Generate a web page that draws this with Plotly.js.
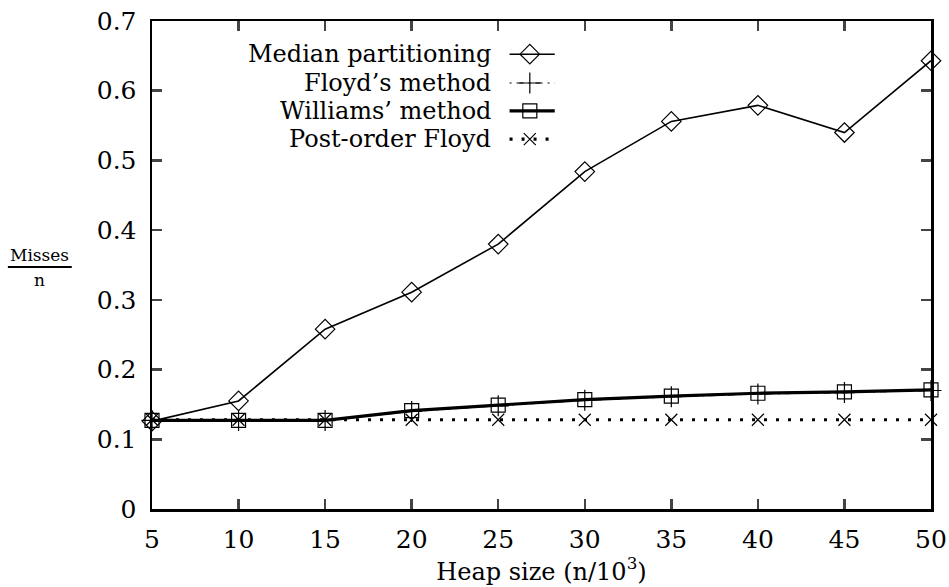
<!DOCTYPE html>
<html>
<head>
<meta charset="utf-8">
<script src="https://cdn.plot.ly/plotly-3.0.1.min.js"></script>
<style>html,body{margin:0;padding:0;background:#fff;}#chart{width:949px;height:587px;}</style>
</head>
<body>
<div id="chart"></div>
<script>
const heapSize = [5, 10, 15, 20, 25, 30, 35, 40, 45, 50];
const medianPartitioning = [0.126, 0.155, 0.258, 0.311, 0.380, 0.484, 0.556, 0.579, 0.540, 0.643];
const floydsMethod = [0.127, 0.127, 0.127, 0.140, 0.148, 0.156, 0.161, 0.165, 0.167, 0.170];
const williamsMethod = [0.127, 0.127, 0.127, 0.141, 0.149, 0.157, 0.162, 0.166, 0.168, 0.171];
const postOrderFloyd = [0.128, 0.128, 0.128, 0.128, 0.128, 0.128, 0.128, 0.128, 0.128, 0.128];
const seriesNames = ["Median partitioning", "Floyd’s method", "Williams’ method", "Post-order Floyd"];
const xTicks = [5, 10, 15, 20, 25, 30, 35, 40, 45, 50];
const yTicks = [0, 0.1, 0.2, 0.3, 0.4, 0.5, 0.6, 0.7];
const yTickLabels = ["0", "0.1", "0.2", "0.3", "0.4", "0.5", "0.6", "0.7"];

const FONT = "DejaVu Serif, Liberation Serif, serif";
const styles = [
  {line: {color: "#000", width: 1.6, dash: "solid"}, marker: {symbol: "diamond-open", size: 15, color: "#000", line: {width: 1.2}}},
  {line: {color: "#000", width: 1.2, dash: "2px,5px,7px,5px"}, marker: {symbol: "cross-thin-open", size: 15, color: "#000", line: {width: 1.2}}},
  {line: {color: "#000", width: 3.2, dash: "solid"}, marker: {symbol: "square-open", size: 14, color: "#000", line: {width: 1.2}}},
  {line: {color: "#000", width: 3.2, dash: "3px,9px"}, marker: {symbol: "x-thin-open", size: 12, color: "#000", line: {width: 1.2}}}
];
const seriesValues = [medianPartitioning, floydsMethod, williamsMethod, postOrderFloyd];

const traces = [];
[3, 1, 2, 0].forEach(i => {
  traces.push({
    x: heapSize, y: seriesValues[i], name: seriesNames[i], type: "scatter", mode: "lines+markers",
    line: styles[i].line, marker: styles[i].marker, showlegend: false, cliponaxis: false
  });
});

// custom legend (text right-aligned, sample to the right)
const legRowY = [0.932, 0.873, 0.816, 0.758];
const sampleX0 = 0.459, sampleX1 = 0.517, sampleMid = 0.485;
const annotations = [];
for (let i = 0; i < 4; i++) {
  traces.push({x: [sampleX0, sampleX1], y: [legRowY[i], legRowY[i]], xaxis: "x2", yaxis: "y2",
    mode: "lines", line: styles[i].line, showlegend: false, hoverinfo: "skip"});
  traces.push({x: [sampleMid], y: [legRowY[i]], xaxis: "x2", yaxis: "y2",
    mode: "markers", marker: styles[i].marker, showlegend: false, hoverinfo: "skip"});
  annotations.push({xref: "x2", yref: "y2", x: 0.438, y: legRowY[i], xanchor: "right", yanchor: "middle",
    text: seriesNames[i], showarrow: false, font: {family: FONT, size: 24, color: "#000"}});
}
// y-axis title as a fraction
const fracX = -0.144, fracY = 0.496;
annotations.push({xref: "paper", yref: "paper", x: fracX, y: fracY + 0.002, xanchor: "center", yanchor: "bottom",
  text: "Misses", showarrow: false, borderpad: 0, font: {family: FONT, size: 17, color: "#000"}});
annotations.push({xref: "paper", yref: "paper", x: fracX, y: fracY - 0.004, xanchor: "center", yanchor: "top",
  text: "n", showarrow: false, borderpad: 0, font: {family: FONT, size: 17, color: "#000"}});

const layout = {
  width: 949, height: 587,
  margin: {l: 152, r: 18, t: 21, b: 78},
  paper_bgcolor: "#fff", plot_bgcolor: "#fff",
  font: {family: FONT, size: 24, color: "#000"},
  xaxis: {range: [5, 50], tickvals: xTicks, ticks: "inside", ticklen: 10, tickwidth: 2.5,
    showline: true, linewidth: 2.5, linecolor: "#000", mirror: "allticks", showgrid: false, zeroline: false,
    ticklabelstandoff: 6,
    tickfont: {family: FONT, size: 25}, title: {text: "Heap size (n/10<sup>3</sup>)", standoff: 0, font: {family: FONT, size: 24}}},
  yaxis: {range: [0, 0.7], tickvals: yTicks, ticktext: yTickLabels, ticks: "inside", ticklen: 10, tickwidth: 2.5,
    showline: true, linewidth: 2.5, linecolor: "#000", mirror: "allticks", showgrid: false, zeroline: false,
    ticklabelstandoff: 8,
    tickfont: {family: FONT, size: 25}},
  xaxis2: {overlaying: "x", range: [0, 1], visible: false, fixedrange: true},
  yaxis2: {overlaying: "y", range: [0, 1], visible: false, fixedrange: true},
  shapes: [{type: "line", xref: "paper", yref: "paper", x0: fracX - 0.041, x1: fracX + 0.041, y0: fracY, y1: fracY,
    line: {color: "#000", width: 2}}],
  annotations: annotations,
  showlegend: false
};
Plotly.newPlot("chart", traces, layout, {staticPlot: true});
</script>
</body>
</html>
